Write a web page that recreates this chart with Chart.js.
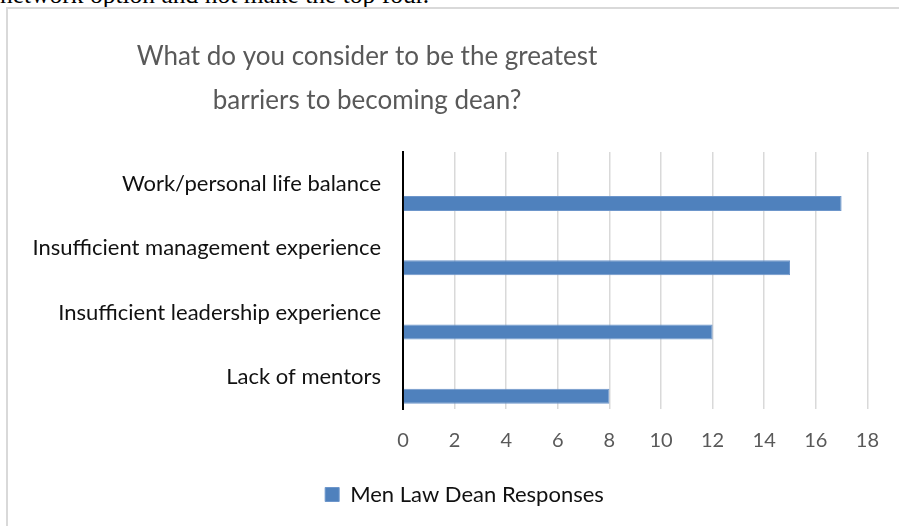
<!DOCTYPE html>
<html>
<head>
<meta charset="utf-8">
<title>Barriers to becoming dean</title>
<script src="https://cdn.jsdelivr.net/npm/chart.js@4.4.0/dist/chart.umd.min.js"></script>
<style>
  html, body { margin: 0; padding: 0; background: #fff; width: 899px; height: 526px; overflow: hidden; }
  #note { position: absolute; left: 0; top: -18px; font: 25.5px/25.5px "Liberation Serif", serif; color: #000; white-space: nowrap; }
  #frame { position: absolute; left: 6px; top: 7px; width: 920px; height: 540px; border: 2px solid #d9d9d9; }
  #barChart { position: absolute; left: 8px; top: 9px; }
</style>
</head>
<body>
<div id="note">network option and not make the top four.</div>
<div id="frame"></div>
<canvas id="barChart" width="891" height="517"></canvas>
<script>
// Chart data
const categories = [
  "Work/personal life balance",
  "Insufficient management experience",
  "Insufficient leadership experience",
  "Lack of mentors",
];
const menResponses = [17, 15, 12, 8];
// the original chart has two more (empty) series sharing each category slot
const blankSeries = [null, null, null, null];
const seriesName = "Men Law Dean Responses";
const titleLines = ["What do you consider to be the greatest", "barriers to becoming dean?"];
const xMin = 0;
const xMax = 18;
const xStep = 2;

const COLORS = {
  bar: "#4f81bd",
  barEdge: "#6d96cb",
  grid: "#d9d9d9",
  axis: "#000000",
  tick: "#595959",
  title: "#595959",
  label: "#111111",
};

Chart.defaults.font.family = "Lato, 'Open Sans', sans-serif";

// Draws the two-line chart title, centred where the original puts it
const titlePlugin = {
  id: "twoLineTitle",
  afterDraw(chart) {
    const ctx = chart.ctx;
    ctx.save();
    ctx.font = "26px Lato, 'Open Sans', sans-serif";
    ctx.fillStyle = COLORS.title;
    ctx.textAlign = "center";
    ctx.textBaseline = "alphabetic";
    titleLines.forEach((line, i) => ctx.fillText(line, 359, 56 + i * 44));
    ctx.restore();
  },
};

// The original legend sits a bit right of the canvas centre
const legendShift = {
  id: "legendShift",
  afterLayout(chart) {
    if (chart.legend) {
      chart.legend.left += 26;
      chart.legend.right += 26;
    }
  },
};

function createBarriersChart(canvasId) {
  const ctx = document.getElementById(canvasId);
  if (!ctx) {
    console.error(`Canvas element ${canvasId} not found`);
    return null;
  }

  const barStyle = {
    backgroundColor: COLORS.bar,
    borderColor: COLORS.barEdge,
    borderWidth: 1,
    barPercentage: 0.77,
    categoryPercentage: 0.91,
  };

  return new Chart(ctx, {
    type: "bar",
    data: {
      labels: categories,
      datasets: [
        { label: "blank-a", data: blankSeries, ...barStyle },
        { label: "blank-b", data: blankSeries, ...barStyle },
        { label: seriesName, data: menResponses, ...barStyle },
      ],
    },
    options: {
      indexAxis: "y",
      responsive: false,
      animation: false,
      devicePixelRatio: 1,
      layout: {
        padding: { top: 143, right: 30, bottom: 10.5, left: 0 },
      },
      plugins: {
        title: { display: false },
        tooltip: { enabled: false },
        legend: {
          display: true,
          position: "bottom",
          labels: {
            boxWidth: 14,
            boxHeight: 14,
            padding: 10,
            color: COLORS.label,
            font: { size: 22 },
            filter: (item) => item.text === seriesName,
          },
        },
      },
      scales: {
        x: {
          min: xMin,
          max: xMax,
          ticks: {
            stepSize: xStep,
            color: COLORS.tick,
            font: { size: 20 },
            padding: 20,
          },
          grid: { color: COLORS.grid, lineWidth: 1.5, drawTicks: false },
          border: { display: false },
          afterFit: (scale) => { scale.height = 64.5; },
        },
        y: {
          ticks: {
            color: COLORS.label,
            font: { size: 22 },
            padding: 22,
          },
          grid: { display: false, drawTicks: false },
          border: { display: true, color: COLORS.axis, width: 2 },
          afterFit: (scale) => { scale.width = 395; },
        },
      },
    },
    plugins: [titlePlugin, legendShift],
  });
}

createBarriersChart("barChart");
</script>
</body>
</html>
